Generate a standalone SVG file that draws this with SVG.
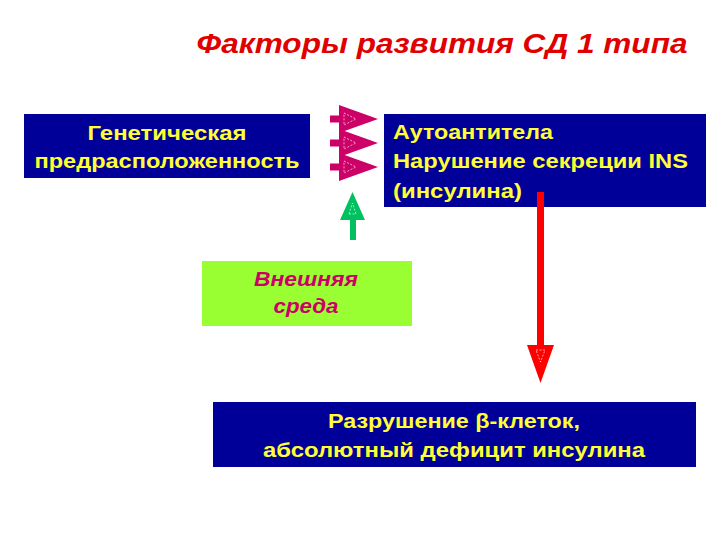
<svg xmlns="http://www.w3.org/2000/svg" width="720" height="540" viewBox="0 0 720 540">
<style>
.box{fill:#000099}
.yt{fill:#FFFF33;font-family:"Liberation Sans",Arial,sans-serif;font-weight:bold;font-size:21px}
.gt{fill:#CC0066;font-family:"Liberation Sans",Arial,sans-serif;font-weight:bold;font-style:italic;font-size:20px}
.inner{fill:none;stroke:#FFFFFF;stroke-width:0.8;stroke-dasharray:2,1.5;opacity:0.8}
</style>
<rect width="720" height="540" fill="#FFFFFF"/>
<text x="442" y="53" text-anchor="middle" textLength="491" lengthAdjust="spacingAndGlyphs" style="fill:#E00000;font-family:'Liberation Sans',Arial,sans-serif;font-weight:bold;font-style:italic;font-size:27px">Факторы развития СД 1 типа</text>

<g id="genetic">
<rect class="box" x="24" y="114" width="286" height="64"/>
<text class="yt" x="167" y="140" text-anchor="middle" textLength="159" lengthAdjust="spacingAndGlyphs">Генетическая</text>
<text class="yt" x="167" y="168" text-anchor="middle" textLength="265" lengthAdjust="spacingAndGlyphs">предрасположенность</text>
</g>

<g id="autoantibodies">
<rect class="box" x="384" y="114" width="322" height="93"/>
<text class="yt" x="393" y="139" textLength="160" lengthAdjust="spacingAndGlyphs">Аутоантитела</text>
<text class="yt" x="393" y="168" textLength="295" lengthAdjust="spacingAndGlyphs">Нарушение секреции INS</text>
<text class="yt" x="393" y="198" textLength="129" lengthAdjust="spacingAndGlyphs">(инсулина)</text>
</g>

<g id="environment">
<rect x="202" y="261" width="210" height="65" fill="#99FF33"/>
<text class="gt" x="306" y="286" text-anchor="middle" textLength="104" lengthAdjust="spacingAndGlyphs">Внешняя</text>
<text class="gt" x="306" y="313" text-anchor="middle" textLength="65" lengthAdjust="spacingAndGlyphs">среда</text>
</g>

<g id="destruction">
<rect class="box" x="213" y="402" width="483" height="65"/>
<text class="yt" x="454" y="428" text-anchor="middle" textLength="252" lengthAdjust="spacingAndGlyphs">Разрушение β-клеток,</text>
<text class="yt" x="454" y="457" text-anchor="middle" textLength="382" lengthAdjust="spacingAndGlyphs">абсолютный дефицит инсулина</text>
</g>

<g id="connectors">
<g fill="#CC0066">
<path d="M330,115.5 H339 V105 L378,119 L339,133 V122.5 H330 Z"/>
<path d="M330,139.5 H339 V129 L378,143 L339,157 V146.5 H330 Z"/>
<path d="M330,163.5 H339 V153 L378,167 L339,181 V170.5 H330 Z"/>
</g>
<path class="inner" d="M344,113 L356,119 L344,125 Z"/>
<path class="inner" d="M344,137 L356,143 L344,149 Z"/>
<path class="inner" d="M344,161 L356,167 L344,173 Z"/>

<path fill="#00C060" d="M350,240 V220 H340 L352.5,192 L365,220 H356 V240 Z"/>
<path class="inner" d="M349,214 L352.5,203 L356,214 Z"/>

<path fill="#FF0000" d="M537,192 H544 V345 H554 L540.5,383 L527,345 H537 Z"/>
<path class="inner" d="M536,350 L545,350 L540.5,362 Z"/>
</g>
</svg>
